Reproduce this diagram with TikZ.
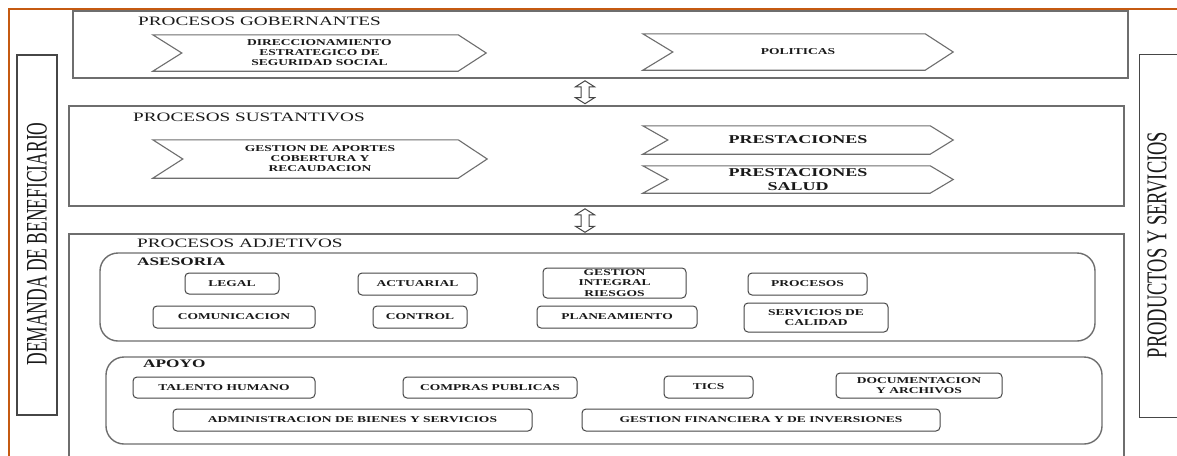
\documentclass[tikz,border=0pt]{standalone}
\usepackage{fontspec}
\setmainfont{Liberation Serif}
\usetikzlibrary{calc}
\definecolor{orangeline}{RGB}{197,90,17}
\definecolor{panelgray}{RGB}{110,110,110}
\definecolor{boxgray}{RGB}{70,70,70}
\definecolor{txt}{RGB}{25,25,25}
\newcommand\sx[1]{\scalebox{1.5}[1]{#1}}
\tikzset{
  panel/.style={draw=panelgray, line width=1.6pt},
  sidebox/.style={draw=boxgray, line width=1.2pt, inner sep=0pt},
  chevline/.style={draw=panelgray, line width=1.1pt, line join=miter},
  chevtext/.style={inner sep=0pt, align=center, text=txt, font=\fontsize{9}{10}\selectfont\bfseries},
  bigchevtext/.style={chevtext, font=\fontsize{12}{13.5}\selectfont\bfseries},
  smallbox/.style={draw=boxgray, rounded corners=4pt, line width=1pt, inner sep=0pt, align=center, text=txt, font=\fontsize{9}{10.5}\selectfont\bfseries},
  groupbox/.style={draw=panelgray, rounded corners=18pt, line width=1.4pt, inner sep=0pt},
  paneltitle/.style={anchor=west, inner sep=0pt, text=txt, font=\fontsize{12.8}{14}\selectfont},
  grouplabel/.style={anchor=west, inner sep=0pt, text=txt, font=\fontsize{11.5}{13}\selectfont\bfseries},
  sidetext/.style={rotate=90, inner sep=0pt, text=txt},
  hollowarrow/.style={draw=boxgray, line width=1pt, fill=white, line join=miter},
  frameline/.style={draw=orangeline, line width=2.6pt}
}
% name, x1, y1, x2, y2, text
\newcommand\rbox[6]{\node[smallbox, minimum width={(#4)-(#2)}, minimum height={(#5)-(#3)}] (#1) at ({((#2)+(#4))/2},{((#3)+(#5))/2}) {#6};}
% style, name, x1, y1, x2, y2, notch, tip, text
\newcommand\chev[9]{%
  \node[#1, minimum width={(#5)-(#3)}, minimum height={(#6)-(#4)}] (#2) at ({((#3)+(#5))/2},{((#4)+(#6))/2}) {#9};
  \draw[chevline] (#2.north west) -- ([xshift=-#8pt]#2.north east) -- (#2.east) -- ([xshift=-#8pt]#2.south east) -- (#2.south west) -- ([xshift=#7pt]#2.west) -- cycle;}
% hollow double arrow between two coordinates
\newcommand\dblarrow[2]{%
  \draw[hollowarrow] (#1) -- ++(9.5,6) -- ++(-5.5,0) -- ($(#2)+(4,-6)$) -- ++(5.5,0) -- (#2) -- ++(-9.5,-6) -- ++(5.5,0) -- ($(#1)+(-4,6)$) -- ++(-5.5,0) -- cycle;}

\begin{document}
\begin{tikzpicture}[x=1pt,y=-1pt]
\useasboundingbox[fill=white] (0,0) rectangle (1177,455);

% orange frame
\draw[frameline] (9,458) -- (9,9) -- (1180,9);

% side boxes
\node[sidebox, minimum width=40, minimum height=360] (dem) at (37,235) {};
\node[sidetext, font=\fontsize{17.5}{20}\selectfont] (demtext) at (37,244) {\scalebox{1}[1.7]{DEMANDA DE BENEFICIARIO}};
\node[inner sep=0pt, minimum width=42, minimum height=362] (prod) at (1160,236) {};
\draw[sidebox] (prod.north east) -- ([xshift=1pt]prod.north west) -- ([xshift=1pt]prod.south west) -- (prod.south east);
\node[sidetext, font=\fontsize{18.5}{21}\selectfont] (prodtext) at (1157,245) {\scalebox{1}[1.55]{PRODUCTOS Y SERVICIOS}};

% panels
\node[panel, inner sep=0pt, minimum width=1055, minimum height=67] (gob) at (600.5,44.5) {};
\node[panel, inner sep=0pt, minimum width=1055, minimum height=100] (sus) at (596.5,156) {};
\node[inner sep=0pt, minimum width=1055, minimum height=224] (adj) at (596.5,346) {};
\draw[panel] (adj.south west) |- (adj.north east) -- (adj.south east);

\node[paneltitle] (gobt) at (138,21) {\sx{PROCESOS GOBERNANTES}};
\node[paneltitle] (sust) at (133,117) {\sx{PROCESOS SUSTANTIVOS}};
\node[paneltitle] (adjt) at (137,243) {\sx{PROCESOS ADJETIVOS}};

% arrows between panels
\coordinate (axis) at (585,0);
\coordinate (a1t) at ($(gob.south -| axis)+(0,2)$);
\coordinate (a1b) at ($(sus.north -| axis)+(0,-1.5)$);
\coordinate (a2t) at ($(sus.south -| axis)+(0,2)$);
\coordinate (a2b) at ($(adj.north -| axis)+(0,-1.5)$);
\dblarrow{a1t}{a1b}
\dblarrow{a2t}{a2b}

% chevrons
\chev{chevtext}{dir}{153}{35}{486}{71}{29}{28}{\sx{DIRECCIONAMIENTO}\\\sx{ESTRATEGICO DE}\\\sx{SEGURIDAD SOCIAL}}
\chev{chevtext}{pol}{643}{34}{953}{70}{30}{28}{\sx{POLITICAS}}
\chev{chevtext}{ges}{153}{140}{487}{178}{30}{29}{\sx{GESTION DE APORTES}\\\sx{COBERTURA Y}\\\sx{RECAUDACION}}
\chev{bigchevtext}{pre}{643}{126}{953}{154}{25}{23}{\sx{PRESTACIONES}}
\chev{bigchevtext}{pres}{643}{166}{953}{193}{25}{23}{\sx{PRESTACIONES}\\\sx{SALUD}}

% ASESORIA
\node[groupbox, minimum width=995, minimum height=88] (ases) at (597.5,297) {};
\node[grouplabel] (asesl) at (137,262) {\sx{ASESORIA}};
\rbox{legal}{185}{273}{279}{294}{\sx{LEGAL}}
\rbox{actu}{358}{273}{477}{295}{\sx{ACTUARIAL}}
\rbox{gir}{543}{268}{686}{298}{\sx{GESTION}\\\sx{INTEGRAL}\\\sx{RIESGOS}}
\rbox{proc}{748}{273}{867}{295}{\sx{PROCESOS}}
\rbox{comu}{153}{306}{315}{328}{\sx{COMUNICACION}}
\rbox{cont}{373}{306}{467}{328}{\sx{CONTROL}}
\rbox{plan}{537}{306}{697}{328}{\sx{PLANEAMIENTO}}
\rbox{serv}{744}{303}{888}{332}{\sx{SERVICIOS DE}\\\sx{CALIDAD}}

% APOYO
\node[groupbox, minimum width=996, minimum height=87] (apoyo) at (604,400.5) {};
\node[grouplabel] (apoyol) at (143,364) {\sx{APOYO}};
\rbox{tal}{133}{377}{315}{398}{\sx{TALENTO HUMANO}}
\rbox{comp}{403}{377}{577}{398}{\sx{COMPRAS PUBLICAS}}
\rbox{tics}{664}{376}{753}{398}{\sx{TICS}}
\rbox{doc}{836}{373}{1002}{398}{\sx{DOCUMENTACION}\\\sx{Y ARCHIVOS}}
\rbox{adm}{173}{409}{532}{431}{\sx{ADMINISTRACION DE BIENES Y SERVICIOS}}
\rbox{gfi}{582}{409}{940}{431}{\sx{GESTION FINANCIERA Y DE INVERSIONES}}
\end{tikzpicture}
\end{document}
